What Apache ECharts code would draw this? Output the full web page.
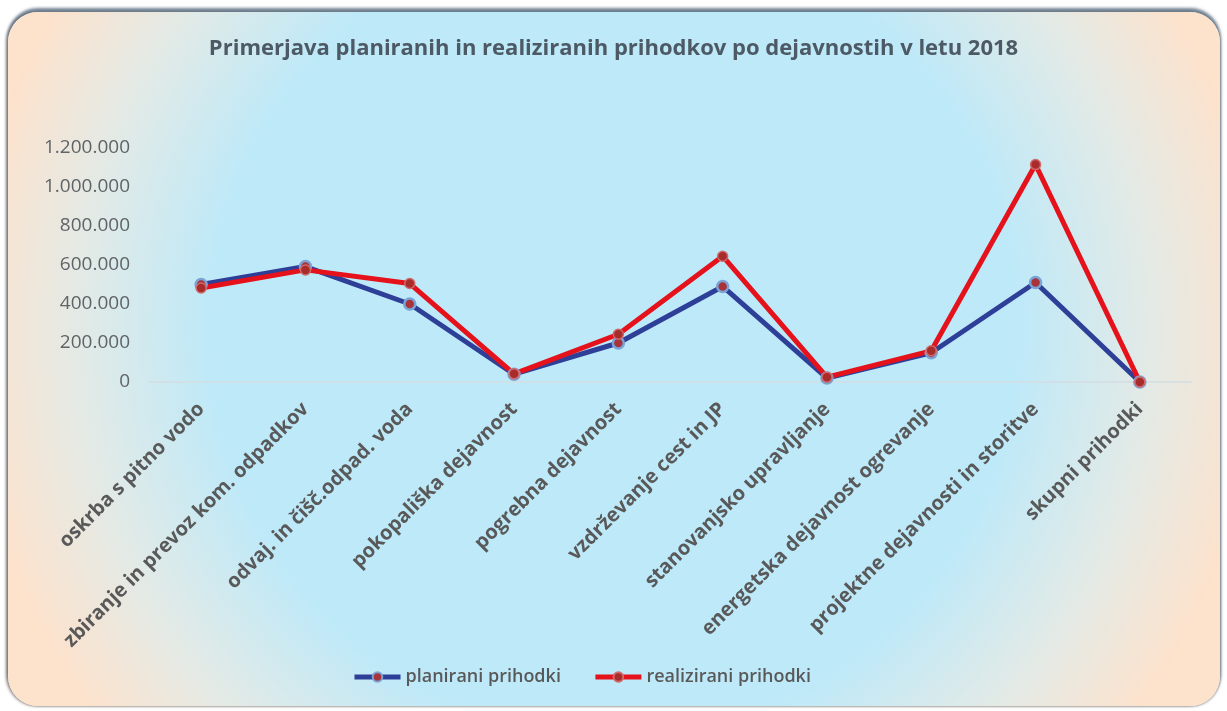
<!DOCTYPE html>
<html>
<head>
<meta charset="utf-8">
<script src="https://cdn.jsdelivr.net/npm/echarts@6/dist/echarts.min.js"></script>
<style>
    html, body { margin: 0; padding: 0; background: #fff; }
    .frame {
        position: absolute; left: 8px; top: 12px; width: 1212px; height: 694px;
        border-radius: 30px;
        background: radial-gradient(circle at 50% 46%, #bde9f9 0%, #bde9f9 56%, #e3eae6 75%, #fde2cc 91%, #fde2cc 100%);
        box-shadow: 0 -3px 3px 1px rgba(80, 100, 120, .8), -2px 0 3px rgba(110, 90, 80, .6), 1px 1px 2px rgba(120, 120, 120, .4);
    }
    .chart { position: absolute; left: 0; top: 0; width: 1227px; height: 711px; }
</style>
</head>
<body>
<div class="frame"></div>
<div class="chart"></div>
<script>
    // kategorije (dejavnosti)
    var categories = [
        'oskrba s pitno vodo',
        'zbiranje in prevoz kom. odpadkov',
        'odvaj. in čišč.odpad. voda',
        'pokopališka dejavnost',
        'pogrebna dejavnost',
        'vzdrževanje cest in JP',
        'stanovanjsko upravljanje',
        'energetska dejavnost ogrevanje',
        'projektne dejavnosti in storitve',
        'skupni prihodki'
    ];
    // planirani prihodki
    var planirani = [500000, 592000, 400000, 40000, 200000, 490000, 20000, 150000, 510000, 0];
    // realizirani prihodki
    var realizirani = [482000, 575000, 505000, 42000, 245000, 645000, 25000, 160000, 1115000, 0];

    var myChart = echarts.init(document.querySelector('.chart'));

    // oblika številk 1.200.000
    function fmt(v) {
        return String(v).replace(/\B(?=(\d{3})+(?!\d))/g, '.');
    }

    var option = {
        backgroundColor: 'transparent',
        animation: false,
        title: {
            text: 'Primerjava planiranih in realiziranih prihodkov po dejavnostih v letu 2018',
            left: 'center',
            top: 33,
            textStyle: {
                fontFamily: 'Open Sans',
                fontWeight: 'bold',
                fontSize: 22,
                color: '#4d5a66'
            }
        },
        legend: {
            bottom: 20,
            left: 347,
            itemWidth: 46,
            itemHeight: 12,
            itemGap: 32,
            lineStyle: { width: 5 },
            textStyle: {
                fontFamily: 'Open Sans',
                fontWeight: 600,
                fontSize: 18,
                color: '#595959'
            },
            data: ['planirani prihodki', 'realizirani prihodki']
        },
        grid: {
            left: 149,
            right: 35,
            top: 148,
            bottom: 329
        },
        xAxis: {
            type: 'category',
            data: categories,
            boundaryGap: true,
            axisLine: { lineStyle: { color: '#d4dde2', width: 1.5 } },
            axisTick: { show: false },
            axisLabel: {
                rotate: 45,
                margin: 24,
                interval: 0,
                fontFamily: 'Open Sans',
                fontWeight: 'bold',
                fontSize: 20,
                color: '#595959'
            }
        },
        yAxis: {
            type: 'value',
            min: 0,
            max: 1200000,
            interval: 200000,
            axisLine: { show: false },
            axisTick: { show: false },
            splitLine: { show: false },
            axisLabel: {
                margin: 19,
                fontFamily: 'Open Sans',
                fontSize: 19,
                color: '#5f6468',
                formatter: fmt
            }
        },
        series: [{
            name: 'planirani prihodki',
            type: 'line',
            data: planirani,
            symbol: 'circle',
            symbolSize: 11,
            lineStyle: { color: '#2e3f98', width: 5 },
            itemStyle: { color: '#a8333a', borderColor: '#7aa3d6', borderWidth: 2.5 }
        }, {
            name: 'realizirani prihodki',
            type: 'line',
            data: realizirani,
            symbol: 'circle',
            symbolSize: 10,
            lineStyle: { color: '#e5121b', width: 5 },
            itemStyle: { color: '#a82c2c', borderColor: '#d06a6a', borderWidth: 1.5 }
        }]
    };

    myChart.setOption(option);

    window.addEventListener('resize', function () {
        myChart.resize();
    });
</script>
</body>
</html>
